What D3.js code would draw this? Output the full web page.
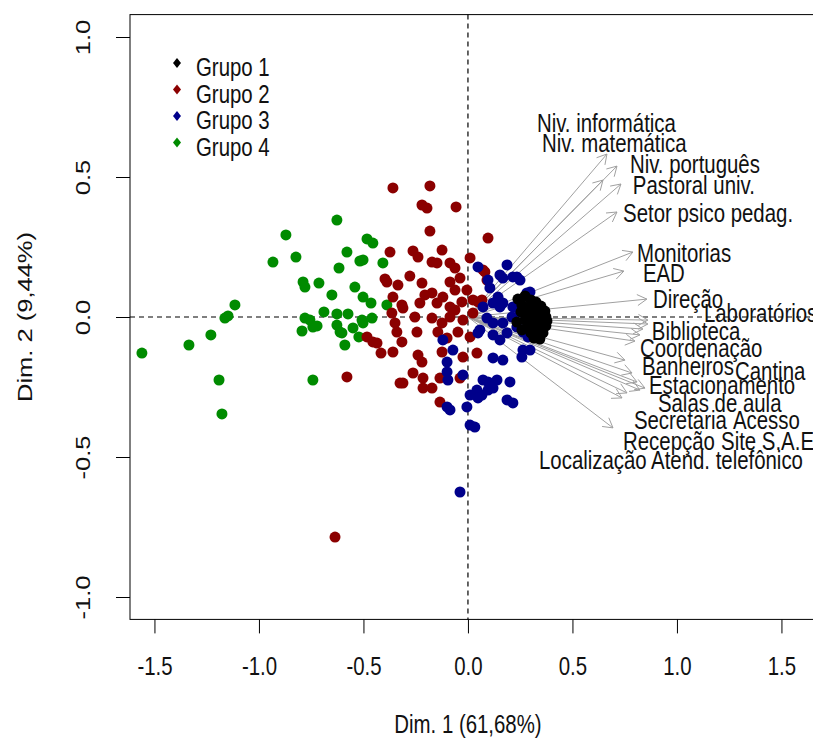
<!DOCTYPE html>
<html>
<head>
<meta charset="utf-8">
<script src="https://cdn.jsdelivr.net/npm/d3@7"></script>
<style>
  body { margin: 0; background: #fff; }
  text { font-family: Arial, "Liberation Sans", sans-serif; fill: #111; }
</style>
</head>
<body>
<div id="chart"></div>
<script>
// Grupos e cores do agrupamento
var grupos = ["Grupo 1", "Grupo 2", "Grupo 3", "Grupo 4"];
var cores = ["#000000", "#8b0000", "#00008b", "#008b00"];

// Coordenadas dos indivíduos (Dim. 1, Dim. 2) por grupo
var grupo1 = [
  [0.239, 0.064], [0.273, 0.075], [0.301, 0.061], [0.325, 0.054], [0.258, 0.043],
  [0.292, 0.036], [0.321, 0.032], [0.349, 0.039], [0.368, 0.021], [0.282, 0.014],
  [0.311, 0.011], [0.340, 0.011], [0.373, 0.000], [0.297, -0.011], [0.330, -0.011],
  [0.359, -0.018], [0.373, -0.032], [0.287, -0.032], [0.316, -0.036], [0.344, -0.039],
  [0.301, -0.057], [0.330, -0.061], [0.359, -0.057], [0.316, -0.075], [0.344, -0.079],
  [0.273, -0.011], [0.254, 0.018], [0.234, -0.018], [0.258, -0.046], [0.378, -0.014]
];
var grupo2 = [
  [-0.359, 0.461], [-0.182, 0.468], [-0.220, 0.400], [-0.196, 0.389], [-0.057, 0.393],
  [-0.182, 0.307], [0.096, 0.282], [-0.373, 0.232], [-0.263, 0.236], [-0.239, 0.214],
  [-0.124, 0.239], [0.010, 0.211], [-0.172, 0.196], [-0.148, 0.193], [-0.086, 0.193],
  [-0.062, 0.175], [0.072, 0.168], [-0.278, 0.146], [-0.397, 0.136], [-0.388, 0.125],
  [-0.335, 0.114], [-0.220, 0.121], [-0.086, 0.125], [-0.038, 0.139], [-0.172, 0.086],
  [-0.206, 0.079], [-0.120, 0.071], [-0.005, 0.096], [0.024, 0.061], [-0.359, 0.071],
  [-0.316, 0.043], [-0.311, 0.032], [-0.230, 0.050], [-0.148, 0.050], [-0.086, 0.036],
  [-0.062, 0.025], [-0.029, 0.054], [0.048, 0.054], [0.081, 0.161], [0.091, 0.132],
  [0.067, 0.061], [-0.364, 0.014], [-0.254, 0.000], [-0.172, -0.004], [-0.124, -0.021],
  [-0.086, 0.000], [-0.024, -0.011], [0.024, 0.014], [-0.349, -0.021], [-0.340, -0.054],
  [-0.244, -0.054], [-0.144, -0.054], [-0.100, -0.075], [-0.048, -0.054], [0.010, -0.071],
  [-0.483, -0.071], [-0.455, -0.089], [-0.435, -0.093], [-0.316, -0.089], [-0.416, -0.129],
  [-0.359, -0.125], [-0.239, -0.136], [-0.220, -0.161], [-0.124, -0.125], [-0.024, -0.143],
  [0.043, -0.129], [-0.263, -0.200], [-0.325, -0.236], [-0.311, -0.236], [-0.215, -0.218],
  [-0.134, -0.218], [-0.038, -0.218], [-0.215, -0.254], [-0.172, -0.254], [-0.134, -0.304],
  [-0.579, -0.214], [-0.062, 0.096], [-0.636, -0.786]
];
var grupo3 = [
  [0.048, 0.179], [0.187, 0.186], [0.153, 0.150], [0.167, 0.139], [0.215, 0.143],
  [0.249, 0.132], [0.282, 0.086], [0.096, 0.132], [0.144, 0.071], [0.072, 0.036],
  [0.120, 0.050], [0.167, 0.050], [0.215, 0.036], [0.211, 0.000], [0.091, -0.004],
  [0.120, -0.021], [0.167, -0.021], [0.234, -0.036], [0.057, -0.046], [0.120, -0.064],
  [0.187, -0.057], [0.263, -0.054], [0.287, -0.071], [-0.120, -0.082], [0.048, -0.057],
  [-0.072, -0.118], [-0.100, -0.161], [0.263, -0.118], [0.297, -0.118], [0.258, -0.143],
  [0.120, -0.146], [0.167, -0.154], [-0.100, -0.196], [-0.096, -0.225], [-0.024, -0.207],
  [0.072, -0.225], [0.096, -0.232], [0.139, -0.225], [0.201, -0.232], [0.043, -0.261],
  [0.120, -0.254], [0.010, -0.279], [0.067, -0.279], [0.187, -0.296], [0.215, -0.307],
  [-0.100, -0.321], [-0.086, -0.332], [-0.005, -0.321], [0.010, -0.386], [0.033, -0.393],
  [-0.038, -0.625], [0.234, 0.143], [0.297, 0.089], [0.153, 0.036], [0.105, 0.104],
  [0.249, 0.018], [0.153, -0.082], [0.096, -0.261], [0.048, -0.289]
];
var grupo4 = [
  [-0.627, 0.346], [-0.871, 0.293], [-0.933, 0.196], [-0.823, 0.214], [-0.483, 0.279],
  [-0.455, 0.264], [-0.579, 0.232], [-0.517, 0.200], [-0.502, 0.204], [-0.407, 0.193],
  [-0.617, 0.175], [-0.789, 0.125], [-0.780, 0.107], [-0.713, 0.121], [-0.541, 0.107],
  [-0.651, 0.079], [-0.502, 0.071], [-0.464, 0.050], [-0.388, 0.043], [-1.115, 0.043],
  [-1.148, 0.004], [-1.163, -0.004], [-0.689, 0.018], [-0.627, 0.011], [-0.574, 0.011],
  [-0.780, -0.004], [-0.756, -0.011], [-0.507, -0.011], [-0.459, -0.004], [-0.794, -0.050],
  [-0.742, -0.036], [-0.722, -0.032], [-0.627, -0.029], [-0.612, -0.054], [-0.603, -0.057],
  [-0.550, -0.039], [-0.502, -0.021], [-0.522, -0.071], [-0.589, -0.100], [-1.230, -0.064],
  [-1.335, -0.100], [-1.560, -0.129], [-1.191, -0.225], [-0.742, -0.225], [-1.177, -0.346]
];

// Variáveis: nome, ponta da seta e posição do rótulo (mesmas unidades dos eixos)
var variaveis = ["Niv. informática", "Niv. matemática", "Niv. português", "Pastoral univ.",
  "Setor psico pedag.", "Monitorias", "EAD", "Direção", "Laboratórios", "Biblioteca",
  "Coordenação", "Banheiros", "Cantina", "Estacionamento", "Salas de aula", "Secretaria",
  "Acesso", "Recepção", "Site S.A.E.", "Localização", "Atend. telefônico"];
var setaX = [0.665, 0.713, 0.646, 0.732, 0.713, 0.789, 0.746, 0.856, 0.861, 0.861,
  0.837, 0.823, 0.799, 0.751, 0.785, 0.809, 0.847, 0.823, 0.761, 0.737, 0.694];
var setaY = [0.582, 0.539, 0.489, 0.475, 0.375, 0.232, 0.164, 0.064, -0.011, -0.025,
  -0.043, -0.064, -0.086, -0.154, -0.200, -0.232, -0.254, -0.261, -0.271, -0.289, -0.396];
var rotuloX = [0.330, 0.354, 0.775, 0.789, 0.742, 0.809, 0.837, 0.885, 1.129, 0.880,
  0.823, 0.833, 1.278, 0.866, 0.909, 0.794, 1.268, 0.742, 1.211, 0.340, 0.876];
var rotuloY = [0.693, 0.621, 0.546, 0.471, 0.371, 0.229, 0.157, 0.064, 0.014, -0.050,
  -0.111, -0.175, -0.193, -0.243, -0.307, -0.368, -0.368, -0.443, -0.443, -0.511, -0.511];

var ticks = [-1.5, -1.0, -0.5, 0.0, 0.5, 1.0, 1.5];
var ticksY = [-1.0, -0.5, 0.0, 0.5, 1.0];
var tituloX = "Dim. 1 (61,68%)";
var tituloY = "Dim. 2 (9,44%)";

var W = 813, H = 740;
// a imagem original foi esticada na vertical, por isso o texto é achatado em x
var FS = 25.5, SX = 0.8;

var svg = d3.select("#chart").append("svg")
    .attr("width", W)
    .attr("height", H);

var x = d3.scaleLinear().domain([-1.617, 1.683]).range([130, 819.7]);
var y = d3.scaleLinear().domain([-1.08, 1.08]).range([619.4, 14.6]);

function texto(px, py, str, anchor, rot) {
  return svg.append("text")
    .attr("transform", "translate(" + px + "," + py + ") scale(" + SX + ",1)" + (rot ? " rotate(-90)" : ""))
    .attr("text-anchor", anchor || "start")
    .style("font-size", FS + "px")
    .text(str);
}

// linhas tracejadas pela origem
svg.append("line")
    .attr("x1", x(0)).attr("x2", x(0))
    .attr("y1", y.range()[1]).attr("y2", y.range()[0])
    .attr("stroke", "#000").attr("stroke-width", 1.2).attr("stroke-dasharray", "5,4");
svg.append("line")
    .attr("x1", x.range()[0]).attr("x2", x.range()[1])
    .attr("y1", y(0)).attr("y2", y(0))
    .attr("stroke", "#000").attr("stroke-width", 1.2).attr("stroke-dasharray", "5,4");

// setas das variáveis
var setas = svg.append("g")
    .attr("stroke", "#a0a0a0")
    .attr("stroke-width", 1)
    .attr("fill", "none");
variaveis.forEach(function(v, i) {
  var x0 = x(0), y0 = y(0), x1 = x(setaX[i]), y1 = y(setaY[i]);
  var a = Math.atan2(y1 - y0, x1 - x0), L = 11;
  setas.append("line").attr("x1", x0).attr("y1", y0).attr("x2", x1).attr("y2", y1);
  setas.append("path")
    .attr("d", "M" + (x1 - L * Math.cos(a - Math.PI / 6)) + "," + (y1 - L * Math.sin(a - Math.PI / 6)) +
      "L" + x1 + "," + y1 +
      "L" + (x1 - L * Math.cos(a + Math.PI / 6)) + "," + (y1 - L * Math.sin(a + Math.PI / 6)));
});

// indivíduos
[grupo4, grupo2, grupo3, grupo1].forEach(function(pts) {
  var k = [grupo1, grupo2, grupo3, grupo4].indexOf(pts);
  svg.append("g").selectAll("circle")
    .data(pts)
    .enter().append("circle")
      .attr("cx", function(d) { return x(d[0]); })
      .attr("cy", function(d) { return y(d[1]); })
      .attr("r", 5.5)
      .attr("fill", cores[k]);
});

// rótulos das variáveis
variaveis.forEach(function(v, i) {
  texto(x(rotuloX[i]), y(rotuloY[i]) + 9, v);
});

// moldura e eixos
svg.append("rect")
    .attr("x", x.range()[0]).attr("y", y.range()[1])
    .attr("width", x.range()[1] - x.range()[0])
    .attr("height", y.range()[0] - y.range()[1])
    .attr("fill", "none").attr("stroke", "#000");

var eixoX = svg.append("g")
    .attr("transform", "translate(0," + y.range()[0] + ")")
    .call(d3.axisBottom(x).tickValues(ticks).tickSize(14).tickSizeOuter(0)
      .tickFormat(function(d) { return d.toFixed(1); }));
eixoX.select(".domain").remove();
eixoX.selectAll("text")
    .attr("y", 0).attr("dy", 0)
    .attr("transform", "translate(0,56) scale(" + SX + ",1)")
    .style("font-size", FS + "px").attr("font-family", null);

var eixoY = svg.append("g")
    .attr("transform", "translate(" + x.range()[0] + ",0)")
    .call(d3.axisLeft(y).tickValues(ticksY).tickSize(14).tickSizeOuter(0)
      .tickFormat(function(d) { return d.toFixed(1); }));
eixoY.select(".domain").remove();
eixoY.selectAll("text")
    .attr("x", 0).attr("dy", 0)
    .attr("text-anchor", "middle")
    .attr("transform", "translate(-40,0) scale(" + SX + ",1) rotate(-90)")
    .style("font-size", FS + "px").attr("font-family", null);
svg.selectAll(".tick line").attr("stroke", "#000");

texto(x(0), 733, tituloX, "middle");
texto(32, (y.range()[0] + y.range()[1]) / 2, tituloY, "middle", true);

// legenda
var legenda = svg.append("g");
grupos.forEach(function(g, i) {
  var ly = 63 + i * 26.5;
  legenda.append("path")
    .attr("d", "M177," + (ly - 5) + "L181," + ly + "L177," + (ly + 5) + "L173," + ly + "Z")
    .attr("fill", cores[i]);
  texto(196, ly + 13, g);
});
</script>
</body>
</html>
